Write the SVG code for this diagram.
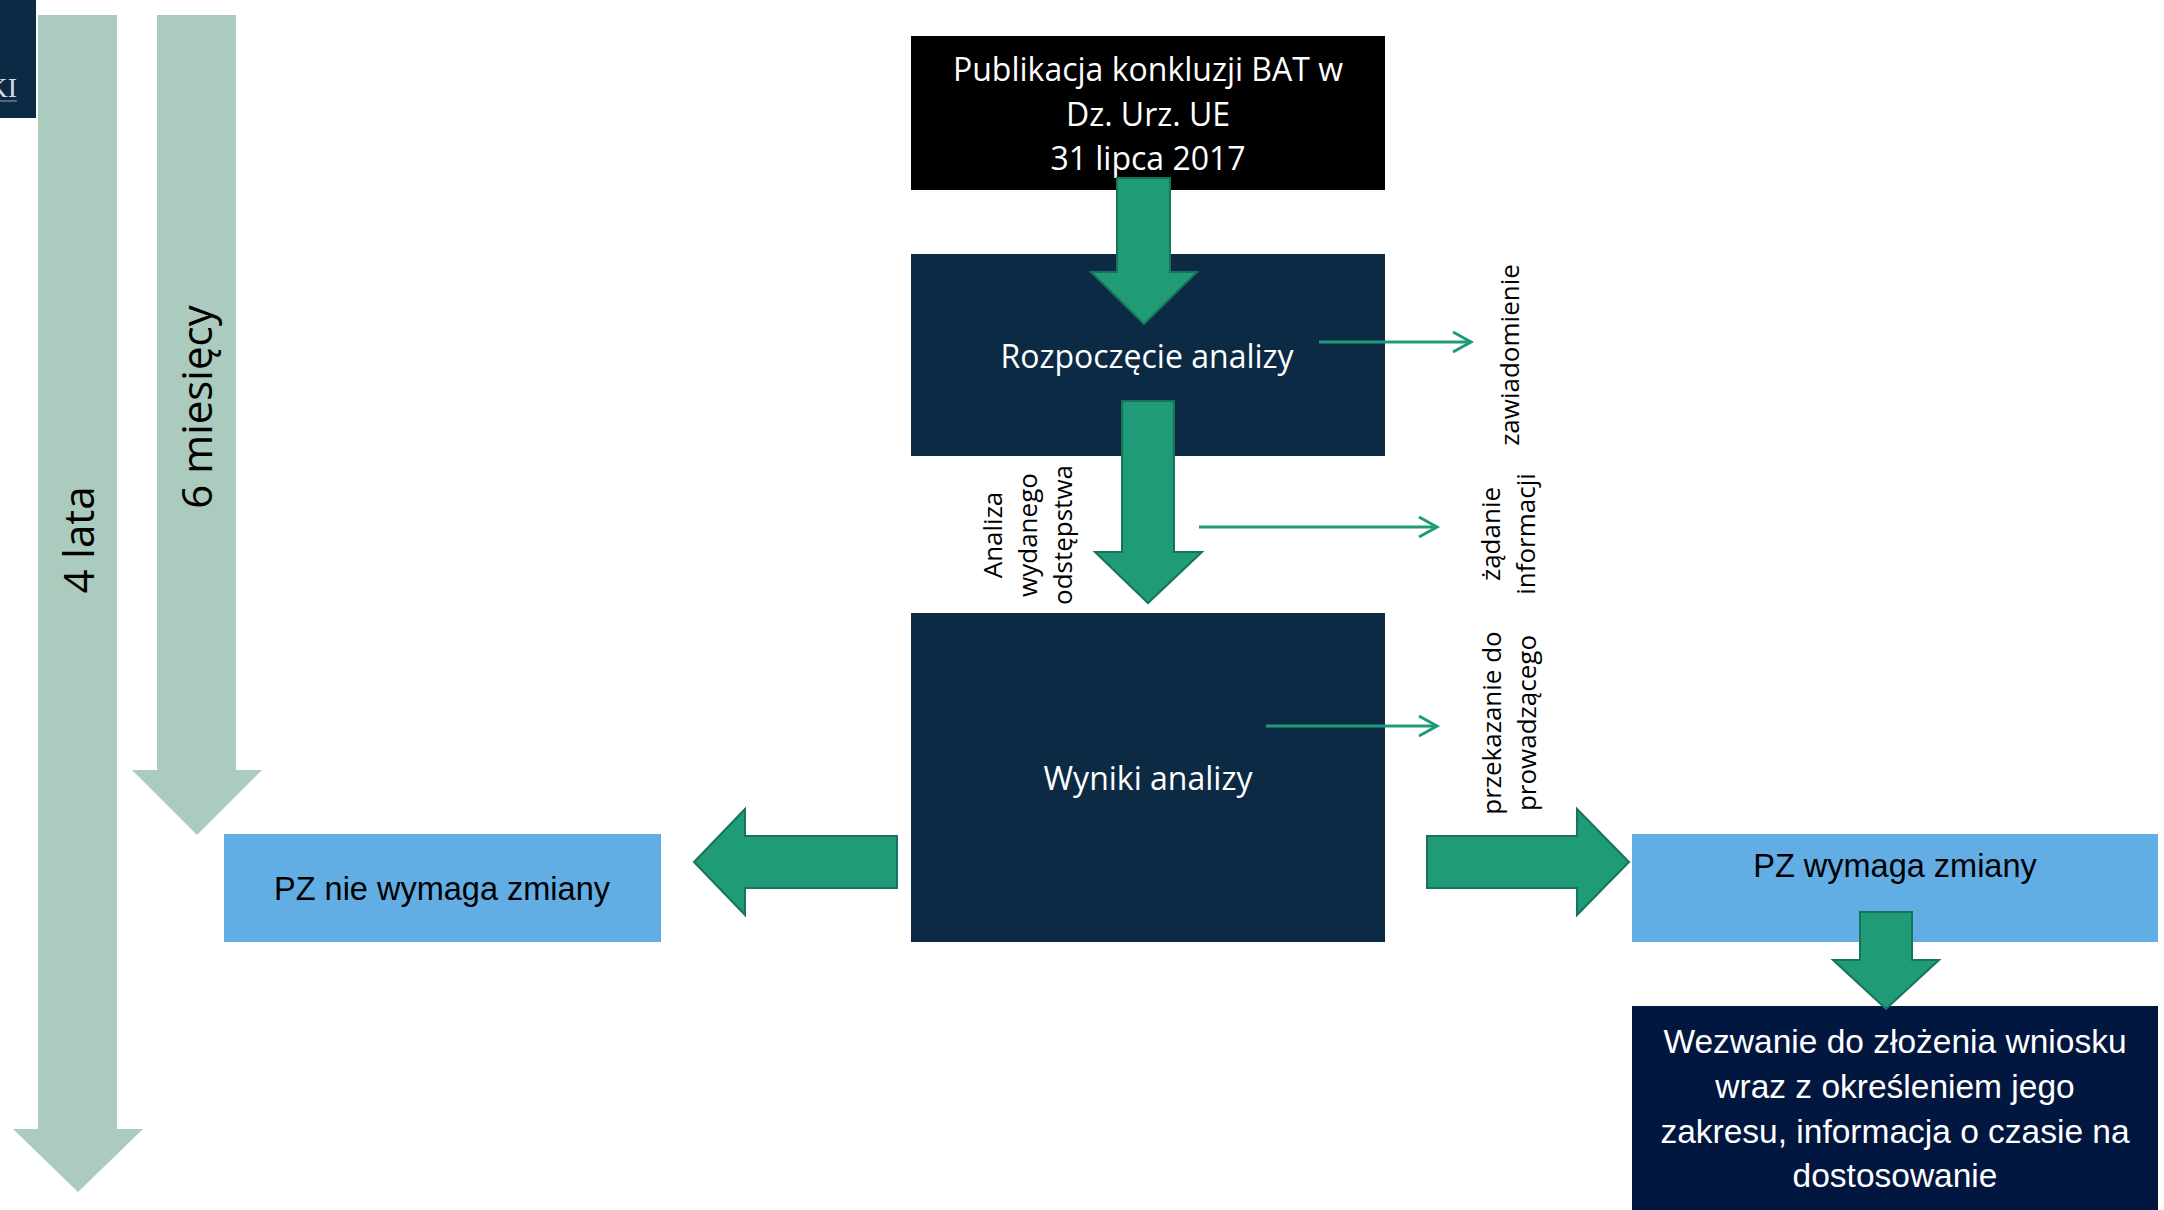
<svg xmlns="http://www.w3.org/2000/svg" width="2164" height="1210" viewBox="0 0 2164 1210">
  <style>
    .seg { font-family: "Open Sans", "Liberation Sans", sans-serif; }
    .cal { font-family: "Liberation Sans", Arial, sans-serif; }
    .wt { fill: #ffffff; }
    .bk { fill: #000000; }
    .big { font-size: 32px; text-anchor: middle; }
    .pz { font-size: 32.5px; text-anchor: middle; }
    .wz { font-size: 33.5px; text-anchor: middle; }
    .vl { font-size: 26px; text-anchor: middle; fill: #000000; }
    .tl { font-size: 42px; text-anchor: middle; fill: #000000; }
    .blk { fill: #1f9b78; stroke: #17735a; stroke-width: 2; stroke-linejoin: miter; }
    .tbar { fill: #aacbbd; }
    .thin { stroke: #1f9b78; stroke-width: 3; fill: none; marker-end: url(#chev); }
  </style>
  <defs>
    <marker id="chev" markerUnits="userSpaceOnUse" viewBox="-22 -13 26 26" refX="0" refY="0" markerWidth="26" markerHeight="26" orient="auto">
      <path d="M-18,-10 L0,0 L-18,10" fill="none" stroke="#1f9b78" stroke-width="3"/>
    </marker>
  </defs>
  <rect x="0" y="0" width="2164" height="1210" fill="#ffffff"/>

  <!-- logo fragment -->
  <g id="logo">
    <rect x="0" y="0" width="36" height="118" fill="#0d2a44"/>
    <text x="17" y="97" font-family="Liberation Serif, serif" font-size="28" fill="#d5dae0" text-anchor="end">KI</text>
    <line x1="0" y1="101" x2="17" y2="101" stroke="#9aa6b3" stroke-width="1"/>
  </g>

  <!-- timeline bars -->
  <g id="bar-4lata">
    <polygon class="tbar" points="38,15 117,15 117,1129 143,1129 78,1192 13,1129 38,1129"/>
    <text class="seg tl" transform="translate(94,540) rotate(-90)">4 lata</text>
  </g>
  <g id="bar-6miesiecy">
    <polygon class="tbar" points="157,15 236,15 236,770 262,770 197,835 132,770 157,770"/>
    <text class="seg tl" transform="translate(212,407) rotate(-90)">6 miesięcy</text>
  </g>

  <!-- nodes -->
  <g id="publikacja">
    <rect x="911" y="36" width="474" height="154" fill="#000000"/>
    <text class="seg big wt" x="1148" y="81">Publikacja konkluzji BAT w</text>
    <text class="seg big wt" x="1148" y="126">Dz. Urz. UE</text>
    <text class="seg big wt" x="1148" y="170">31 lipca 2017</text>
  </g>
  <g id="rozpoczecie">
    <rect x="911" y="254" width="474" height="202" fill="#0d2a44"/>
    <text class="seg big wt" x="1147" y="368">Rozpoczęcie analizy</text>
  </g>
  <g id="wyniki">
    <rect x="911" y="613" width="474" height="329" fill="#0d2a44"/>
    <text class="seg big wt" x="1148" y="790">Wyniki analizy</text>
  </g>
  <g id="pz-nie">
    <rect x="224" y="834" width="437" height="108" fill="#62ade3"/>
    <text class="cal pz bk" x="442" y="900">PZ nie wymaga zmiany</text>
  </g>
  <g id="pz-wymaga">
    <rect x="1632" y="834" width="526" height="108" fill="#62ade3"/>
    <text class="cal pz bk" x="1895" y="877">PZ wymaga zmiany</text>
  </g>
  <g id="wezwanie">
    <rect x="1632" y="1006" width="526" height="204" fill="#021740"/>
    <text class="cal wz wt" x="1895" y="1053">Wezwanie do złożenia wniosku</text>
    <text class="cal wz wt" x="1895" y="1098">wraz z określeniem jego</text>
    <text class="cal wz wt" x="1895" y="1143">zakresu, informacja o czasie na</text>
    <text class="cal wz wt" x="1895" y="1187">dostosowanie</text>
  </g>

  <!-- side labels -->
  <g id="label-analiza">
    <text class="seg vl" transform="translate(1002,535) rotate(-90)">Analiza</text>
    <text class="seg vl" transform="translate(1037,535) rotate(-90)">wydanego</text>
    <text class="seg vl" transform="translate(1072,535) rotate(-90)">odstępstwa</text>
  </g>
  <g id="label-zawiadomienie">
    <text class="seg vl" transform="translate(1519,355) rotate(-90)">zawiadomienie</text>
  </g>
  <g id="label-zadanie">
    <text class="seg vl" transform="translate(1500,534) rotate(-90)">żądanie</text>
    <text class="seg vl" transform="translate(1535,534) rotate(-90)">informacji</text>
  </g>
  <g id="label-przekazanie">
    <text class="seg vl" transform="translate(1501,723) rotate(-90)">przekazanie do</text>
    <text class="seg vl" transform="translate(1536,723) rotate(-90)">prowadzącego</text>
  </g>

  <!-- connectors -->
  <g id="connectors">
    <polygon class="blk" points="1117,178 1170,178 1170,272 1197,272 1144,324 1091,272 1117,272"/>
    <polygon class="blk" points="1122,401 1174,401 1174,552 1202,552 1148,603 1095,552 1122,552"/>
    <polygon class="blk" points="897,836 745,836 745,809 694,862 745,915 745,888 897,888"/>
    <polygon class="blk" points="1427,836 1577,836 1577,809 1629,862 1577,915 1577,888 1427,888"/>
    <polygon class="blk" points="1860,912 1912,912 1912,960 1939,960 1886,1009 1833,960 1860,960"/>
    <line class="thin" x1="1319" y1="342" x2="1471" y2="342"/>
    <line class="thin" x1="1199" y1="527" x2="1437" y2="527"/>
    <line class="thin" x1="1266" y1="726" x2="1437" y2="726"/>
  </g>
</svg>
